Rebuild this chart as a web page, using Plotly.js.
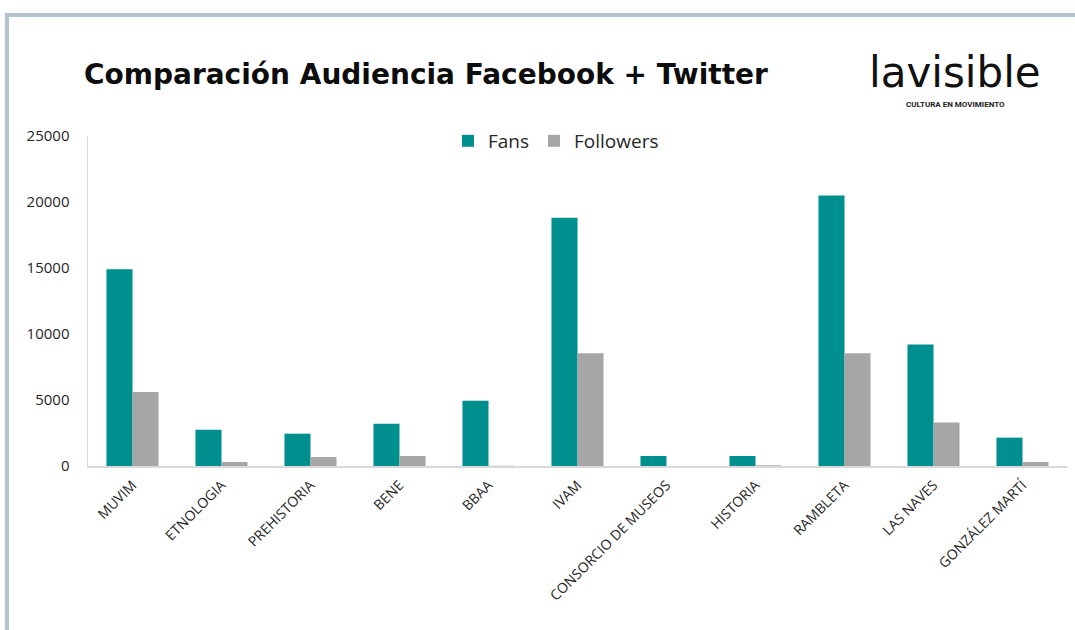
<!DOCTYPE html>
<html>
<head>
<meta charset="utf-8">
<script src="https://cdn.plot.ly/plotly-3.0.1.min.js"></script>
<style>
  html, body { margin: 0; padding: 0; background: #ffffff; }
  #wrap { position: relative; width: 1075px; height: 630px; overflow: hidden; }
  #frame { position: absolute; left: 5px; top: 13px; width: 1080px; height: 640px;
           border-top: 4px solid #b4c3d3; border-left: 4px solid #b4c3d3; box-sizing: border-box; }
  #chart { position: absolute; left: 0; top: 0; width: 1075px; height: 630px; }
</style>
</head>
<body>
<div id="wrap">
  <div id="frame"></div>
  <div id="chart"></div>
</div>
<script>
const categories = ["MUVIM", "ETNOLOGIA", "PREHISTORIA", "BENE", "BBAA", "IVAM",
  "CONSORCIO DE MUSEOS", "HISTORIA", "RAMBLETA", "LAS NAVES", "GONZÁLEZ MARTÍ"];
const fans = [14900, 2750, 2450, 3200, 4950, 18800, 760, 760, 20500, 9200, 2150];
const followers = [5600, 300, 680, 760, 20, 8550, 0, 50, 8550, 3300, 300];
const yTicks = [0, 5000, 10000, 15000, 20000, 25000];

const traces = [
  { type: "bar", name: "Fans", x: categories, y: fans, marker: { color: "#008F8F" } },
  { type: "bar", name: "Followers", x: categories, y: followers, marker: { color: "#A6A6A6" } }
];

const layout = {
  width: 1075, height: 630,
  paper_bgcolor: "rgba(0,0,0,0)", plot_bgcolor: "rgba(0,0,0,0)",
  margin: { l: 88, r: 8, t: 136, b: 164 },
  barmode: "group", bargap: 0.415, bargroupgap: 0,
  font: { family: "Open Sans, sans-serif", color: "#404040" },
  title: {
    text: "<b>Comparación Audiencia Facebook + Twitter</b>",
    font: { family: "DejaVu Sans, sans-serif", size: 28, color: "#0d0d0d" },
    x: 84 / 1075, xanchor: "left", xref: "container",
    y: 1 - 74 / 630, yanchor: "middle", yref: "container"
  },
  showlegend: true,
  legend: {
    orientation: "h", x: 0.478, xanchor: "center", y: 0.985, yanchor: "middle",
    font: { family: "Open Sans, sans-serif", size: 19, color: "#262626" },
    itemwidth: 30, bgcolor: "rgba(0,0,0,0)"
  },
  xaxis: {
    type: "category", tickangle: -45, showgrid: false, zeroline: false,
    showline: true, linecolor: "#d9d9d9", linewidth: 1.5, ticks: "",
    ticklabelstandoff: 4,
    tickfont: { family: "Open Sans, sans-serif", size: 14, color: "#262626" }
  },
  yaxis: {
    range: [0, 25000], tickvals: yTicks, ticktext: yTicks.map(String),
    showgrid: false, zeroline: false, showline: true, linecolor: "#d9d9d9", linewidth: 1.5,
    ticks: "", ticklabelstandoff: 14,
    tickfont: { family: "Open Sans, sans-serif", size: 15, color: "#262626" }
  },
  annotations: [
    { text: "lavisible", xref: "paper", yref: "paper", x: (955 - 88) / 979, y: 1 + (136 - 72) / 330,
      xanchor: "center", yanchor: "middle", showarrow: false,
      font: { family: "DejaVu Sans, sans-serif", size: 42, color: "#111111" } },
    { text: "<b>CULTURA EN MOVIMIENTO</b>", xref: "paper", yref: "paper", x: (955 - 88) / 979, y: 1 + (136 - 104) / 330,
      xanchor: "center", yanchor: "middle", showarrow: false,
      font: { family: "Liberation Sans Narrow, Roboto, sans-serif", size: 8, color: "#222222" } }
  ]
};

Plotly.newPlot("chart", traces, layout, { displayModeBar: false, staticPlot: true });
</script>
</body>
</html>
